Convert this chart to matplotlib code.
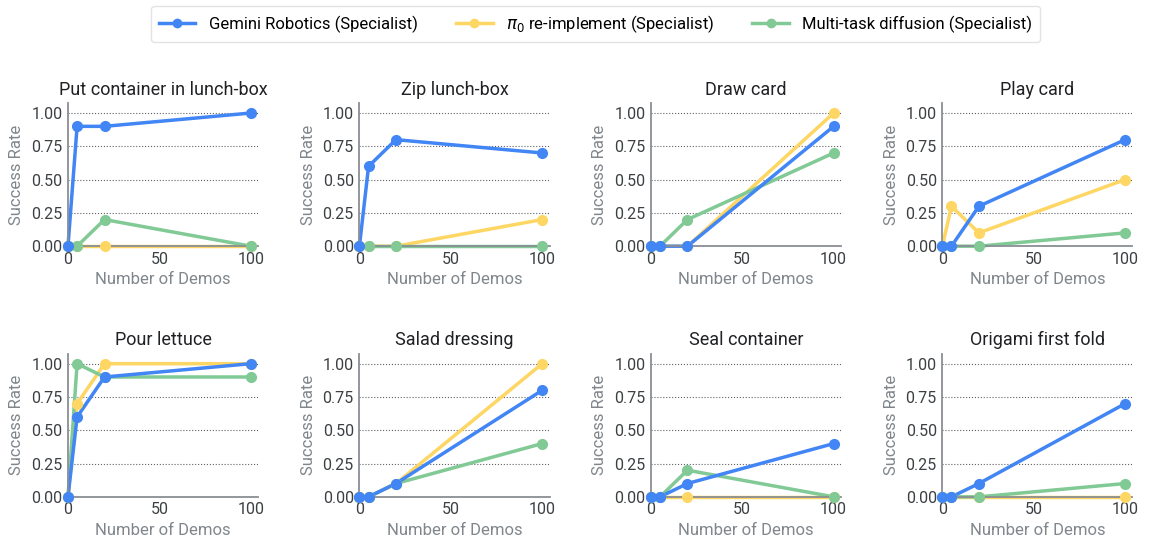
import matplotlib
matplotlib.use("Agg")
import matplotlib.pyplot as plt
from matplotlib.lines import Line2D

plt.rcParams['font.family'] = ['Roboto', 'DejaVu Sans']

demos = [0, 5, 20, 100]
tasks = ["Put container in lunch-box", "Zip lunch-box", "Draw card", "Play card",
         "Pour lettuce", "Salad dressing", "Seal container", "Origami first fold"]
gemini = [
    [0, 0.9, 0.9, 1.0],
    [0, 0.6, 0.8, 0.7],
    [0, 0, 0, 0.9],
    [0, 0, 0.3, 0.8],
    [0, 0.6, 0.9, 1.0],
    [0, 0, 0.1, 0.8],
    [0, 0, 0.1, 0.4],
    [0, 0, 0.1, 0.7],
]
pi0 = [
    [0, 0, 0, 0],
    [0, 0, 0, 0.2],
    [0, 0, 0, 1.0],
    [0, 0.3, 0.1, 0.5],
    [0, 0.7, 1.0, 1.0],
    [0, 0, 0.1, 1.0],
    [0, 0, 0, 0],
    [0, 0, 0, 0],
]
diffusion = [
    [0, 0, 0.2, 0],
    [0, 0, 0, 0],
    [0, 0, 0.2, 0.7],
    [0, 0, 0, 0.1],
    [0, 1.0, 0.9, 0.9],
    [0, 0, 0.1, 0.4],
    [0, 0, 0.2, 0],
    [0, 0, 0, 0.1],
]
series_labels = ["Gemini Robotics (Specialist)", r"$\pi_0$ re-implement (Specialist)",
                 "Multi-task diffusion (Specialist)"]
yticks = [0.0, 0.25, 0.5, 0.75, 1.0]
xticks = [0, 50, 100]

BLUE = '#4285F4'
YELLOW = '#FDD663'
GREEN = '#81C995'
SPINE = '#8a8f94'

fig = plt.figure(figsize=(11.52, 5.57), dpi=100)

lefts = [0.059, 0.312, 0.565, 0.818]
bottoms = [0.558, 0.108]
w, h = 0.165, 0.257

series = [(pi0, YELLOW), (diffusion, GREEN), (gemini, BLUE)]
for i, task in enumerate(tasks):
    r, c = divmod(i, 4)
    ax = fig.add_axes([lefts[c], bottoms[r], w, h])
    for k, (vals, col) in enumerate(series):
        ax.plot(demos, vals[i], color=col, lw=2.5, clip_on=False, zorder=2.0 + 0.1 * k,
                solid_capstyle='round')
        ax.plot(demos, vals[i], color=col, lw=0, marker='o', ms=7, clip_on=False,
                zorder=3.0 + 0.1 * k)
    ax.set_xlim(0, 104)
    ax.set_ylim(0, 1.075)
    ax.set_yticks(yticks)
    ax.set_yticklabels([f"{v:.2f}" for v in yticks])
    ax.set_xticks(xticks)
    ax.tick_params(length=0, labelsize=11.5, colors='#3c4043', pad=4)
    ax.grid(axis='y', linestyle=':', color='#5f6368', lw=0.8)
    ax.set_axisbelow(True)
    for s in ['top', 'right']:
        ax.spines[s].set_visible(False)
    for s in ['left', 'bottom']:
        ax.spines[s].set_color(SPINE)
        ax.spines[s].set_linewidth(1.3)
        ax.spines[s].set_zorder(2.5)
    ax.set_title(task, fontsize=13, color='#202124', pad=6)
    ax.set_xlabel("Number of Demos", fontsize=12, color='#80868b', labelpad=4)
    ax.set_ylabel("Success Rate", fontsize=12, color='#80868b', labelpad=5)

handles = [Line2D([], [], color=BLUE, lw=2.5, marker='o', ms=6),
           Line2D([], [], color=YELLOW, lw=2.5, marker='o', ms=6),
           Line2D([], [], color=GREEN, lw=2.5, marker='o', ms=6)]
leg = fig.legend(handles, series_labels, loc='center', bbox_to_anchor=(0.517, 0.957),
                 ncol=3, fontsize=12, frameon=True, fancybox=True, edgecolor='#dadce0',
                 handlelength=2.2, columnspacing=2.3, borderpad=0.45)
leg.get_frame().set_linewidth(1.0)

fig.savefig("out.png", dpi=100)
